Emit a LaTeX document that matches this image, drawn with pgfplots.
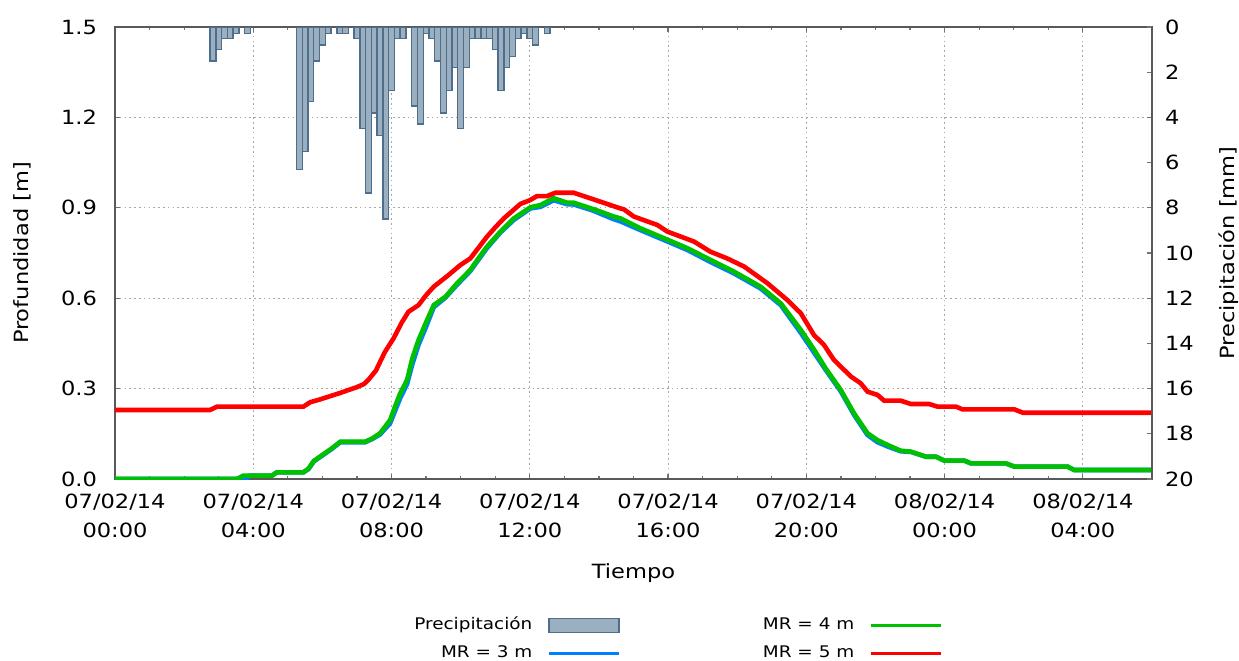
\documentclass[border=0pt]{standalone}
\usepackage{pgfplots}
\pgfplotsset{compat=1.18}
\usepackage{fontspec}
\setmainfont{DejaVu Sans}[FakeStretch=1.15]
\definecolor{mrblue}{RGB}{0,128,255}
\definecolor{mrgreen}{RGB}{0,192,0}
\definecolor{mrred}{RGB}{255,0,0}
\definecolor{barfill}{RGB}{154,175,192}
\definecolor{baredge}{RGB}{78,110,140}
\pgfplotsset{
  mylineleg/.style={legend image code/.code={\draw[##1,line width=1.7pt] (0pt,0pt) -- (35pt,0pt);}},
  mybarleg/.style={legend image code/.code={\draw[##1] (0pt,-3.5pt) rectangle (35pt,3.5pt);}},
  common/.style={
    scale only axis, width=518.5pt, height=226pt,
    xmin=0, xmax=30,
    tick align=inside,
    major tick length=2.5pt, minor tick length=1.5pt,
    every tick/.style={black!55, line width=0.6pt},
    axis line style={black!65, line width=0.7pt},
    tick label style={font=\fontsize{9.8}{14.5}\selectfont},
    label style={font=\fontsize{9.8}{12}\selectfont},
    /pgf/number format/assume math mode=true,
  },
}
\begin{document}
\begin{tikzpicture}
% ---------- depth lines (left axis) ----------
\begin{axis}[common, name=main,
  ymin=0, ymax=1.5,
  xtick={0,4,8,12,16,20,24,28}, minor x tick num=3,
  xticklabels={{07/02/14\\00:00},{07/02/14\\04:00},{07/02/14\\08:00},{07/02/14\\12:00},{07/02/14\\16:00},{07/02/14\\20:00},{08/02/14\\00:00},{08/02/14\\04:00}},
  xticklabel style={align=center, yshift=-4pt},
  ytick={0,0.3,0.6,0.9,1.2,1.5},
  yticklabels={0.0,0.3,0.6,0.9,1.2,1.5},
  yticklabel style={xshift=-5.5pt},
  xtick pos=both, ytick pos=left,
  grid=major,
  grid style={black!35, line width=0.5pt, dash pattern=on 0.8pt off 1.6pt},
  xlabel={Tiempo},
  xlabel style={at={(axis description cs:0.5,-0.208)}, anchor=center},
  ylabel={Profundidad [m]},
  ylabel style={at={(axis description cs:-0.0897,0.5)}, anchor=center},
  legend plot pos=right,
  legend cell align=right,
  legend style={at={(axis description cs:0.7985,-0.2975)}, anchor=north east,
    draw=none, fill=none, inner sep=0pt, row sep=2.5pt, column sep=6pt,
    font=\fontsize{8}{9.6}\selectfont,
    nodes={inner sep=1.5pt, text height=6.5pt, text depth=2pt}},
]
\addplot[mrblue, line width=2.3pt, forget plot] table {
x y
0 0
3.75 0.0
3.9 0.011
4.54 0.011
4.68 0.022
5.45 0.022
5.6 0.033
5.75 0.058
6.0 0.078
6.25 0.098
6.52 0.122
7.24 0.122
7.45 0.133
7.67 0.148
7.96 0.185
8.1 0.225
8.25 0.268
8.45 0.315
8.6 0.38
8.78 0.445
9.0 0.505
9.22 0.57
9.56 0.602
9.9 0.645
10.28 0.69
10.5 0.725
10.76 0.766
11.15 0.818
11.54 0.86
12.02 0.898
12.31 0.903
12.69 0.925
13.08 0.912
13.27 0.911
13.85 0.89
14.05 0.88
14.43 0.862
14.62 0.855
15.2 0.826
15.78 0.798
16.56 0.76
17.23 0.72
17.91 0.682
18.68 0.632
19.26 0.577
19.84 0.485
20.22 0.42
20.56 0.362
21.0 0.29
21.38 0.213
21.77 0.146
22.06 0.122
22.35 0.108
22.73 0.092
23.02 0.09
23.46 0.074
23.75 0.074
23.99 0.061
24.57 0.061
24.76 0.052
25.77 0.052
26.02 0.041
27.56 0.041
27.75 0.030
30 0.030
};
\addplot[mrgreen, line width=2.3pt, mylineleg] table {
x y
0 0.0
3.52 0.0
3.71 0.011
4.54 0.011
4.68 0.022
5.45 0.022
5.6 0.035
5.75 0.06
6.0 0.08
6.25 0.10
6.52 0.124
7.24 0.124
7.45 0.135
7.67 0.152
7.96 0.196
8.1 0.24
8.25 0.284
8.45 0.329
8.6 0.40
8.78 0.461
9.0 0.52
9.22 0.577
9.56 0.605
9.9 0.65
10.28 0.694
10.5 0.73
10.76 0.771
11.15 0.821
11.54 0.865
12.02 0.902
12.31 0.909
12.69 0.932
13.08 0.917
13.27 0.917
13.85 0.895
14.05 0.887
14.43 0.871
14.62 0.865
15.2 0.832
15.78 0.804
16.56 0.766
17.23 0.727
17.91 0.688
18.68 0.638
19.26 0.583
19.84 0.495
20.22 0.43
20.56 0.367
21.0 0.295
21.38 0.218
21.77 0.152
22.06 0.129
22.35 0.113
22.73 0.094
23.02 0.091
23.46 0.074
23.75 0.074
23.99 0.061
24.57 0.061
24.76 0.052
25.77 0.052
26.02 0.041
27.56 0.041
27.75 0.030
30 0.030
};
\addlegendentry{MR = 4 m}
\addplot[mrred, line width=2.3pt, mylineleg] table {
x y
0 0.229
2.75 0.229
2.95 0.24
5.45 0.24
5.65 0.255
5.9 0.263
6.5 0.285
7.0 0.305
7.2 0.315
7.33 0.329
7.55 0.36
7.8 0.42
8.06 0.467
8.3 0.52
8.49 0.555
8.78 0.577
9.0 0.61
9.22 0.638
9.65 0.677
9.99 0.710
10.28 0.732
10.5 0.765
10.76 0.804
11.0 0.835
11.25 0.865
11.5 0.89
11.73 0.913
12.0 0.925
12.21 0.939
12.5 0.939
12.74 0.950
13.27 0.950
13.66 0.935
14.05 0.920
14.62 0.898
14.72 0.895
15.01 0.871
15.69 0.843
15.98 0.821
16.75 0.788
17.23 0.754
17.71 0.732
18.2 0.705
18.87 0.650
19.45 0.594
19.84 0.550
20.22 0.478
20.51 0.445
20.8 0.395
21.29 0.340
21.57 0.318
21.77 0.290
22.06 0.279
22.25 0.260
22.73 0.260
23.02 0.249
23.55 0.249
23.8 0.240
24.33 0.240
24.52 0.231
26.02 0.231
26.26 0.220
30 0.220
};
\addlegendentry{MR = 5 m}
\end{axis}
% ---------- precipitation bars (right axis, reversed) ----------
\begin{axis}[common,
  ymin=0, ymax=20, y dir=reverse,
  axis x line=none, axis y line*=right,
  ytick={0,2,...,20},
  yticklabel style={xshift=3pt},
  ylabel={Precipitación [mm]},
  ylabel style={at={(axis description cs:1.0743,0.5)}, anchor=center},
  ybar, bar width=0.1667,
  legend plot pos=right,
  legend cell align=right,
  legend style={at={(axis description cs:0.488,-0.2975)}, anchor=north east,
    draw=none, fill=none, inner sep=0pt, row sep=2.5pt, column sep=6pt,
    font=\fontsize{8}{9.6}\selectfont,
    nodes={inner sep=1.5pt, text height=6.5pt, text depth=2pt}},
]
\addplot[fill=barfill, draw=baredge, line width=0.7pt, mybarleg] table {
x y
2.833 1.5
3.0 1.0
3.167 0.5
3.333 0.5
3.5 0.3
3.833 0.3
5.333 6.3
5.5 5.5
5.667 3.3
5.833 1.5
6.0 0.8
6.167 0.3
6.5 0.3
6.667 0.3
7.0 0.5
7.167 4.5
7.333 7.35
7.5 3.8
7.667 4.8
7.833 8.5
8.0 2.8
8.167 0.5
8.333 0.5
8.667 3.5
8.833 4.3
9.0 0.3
9.167 0.5
9.333 1.5
9.5 3.8
9.667 2.8
9.833 1.8
10.0 4.5
10.167 1.8
10.333 0.5
10.5 0.5
10.667 0.5
10.833 0.5
11.0 1.0
11.167 2.8
11.333 1.8
11.5 1.3
11.667 0.5
11.833 0.3
12.0 0.5
12.167 0.8
12.5 0.3
};
\addlegendentry{Precipitación}
\addlegendimage{mrblue, line width=2.3pt, mylineleg}
\addlegendentry{MR = 3 m}
\end{axis}
\pgfresetboundingbox
\path[use as bounding box] ([shift={(-57.5pt,-90.5pt)}]main.south west) rectangle ([shift={(43.5pt,13.5pt)}]main.north east);
\end{tikzpicture}
\end{document}
